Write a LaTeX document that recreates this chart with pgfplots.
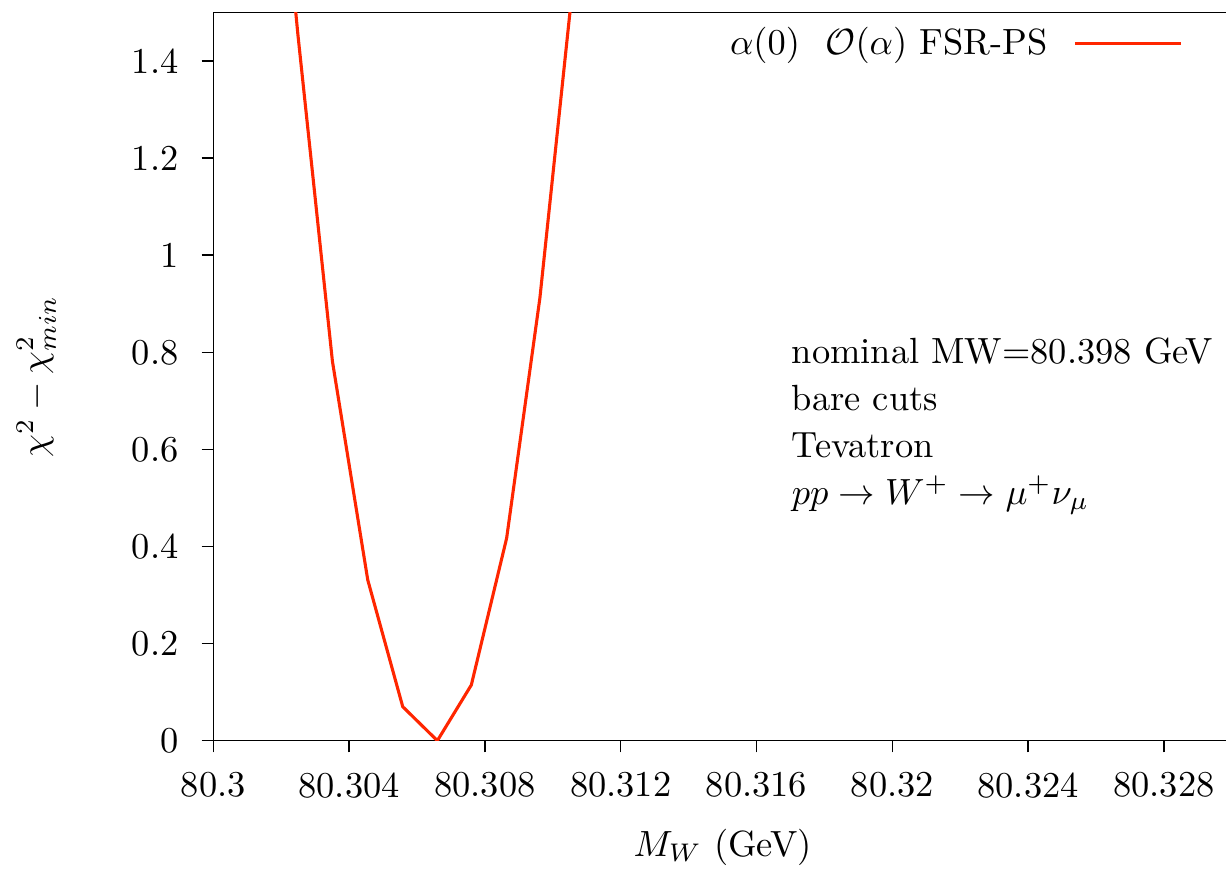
\documentclass[border=0pt]{standalone}
\usepackage{pgfplots}
\pgfplotsset{compat=1.18}
\definecolor{curvered}{RGB}{255,38,0}
\begin{document}
\begin{tikzpicture}
\begin{axis}[
  width=279.6pt, height=199.9pt,
  scale only axis,
  xmin=80.3, xmax=80.33,
  ymin=0, ymax=1.5,
  axis line style={line width=0.42pt},
  tick style={line width=0.42pt, black},
  tick align=outside,
  major tick length=3.2pt,
  xtick={80.3,80.304,80.308,80.312,80.316,80.32,80.324,80.328},
  xticklabels={80.3,80.304,80.308,80.312,80.316,80.32,80.324,80.328},
  ytick={0,0.2,0.4,0.6,0.8,1,1.2,1.4},
  yticklabels={0,0.2,0.4,0.6,0.8,1,1.2,1.4},
  scaled x ticks=false, scaled y ticks=false,
  xtick pos=bottom, ytick pos=left,
  xticklabel style={anchor=north, inner sep=0pt, yshift=-5.3pt},
  yticklabel style={anchor=east, inner sep=0pt, xshift=-6.2pt},
  xlabel={$M_W$ (GeV)},
  ylabel={$\chi^2-\chi^2_{min}$},
  every axis x label/.style={at={(rel axis cs:0.5,0)}, anchor=base, yshift=-31.8pt},
  every axis y label/.style={at={(rel axis cs:0,0.5)}, anchor=center, xshift=-48.6pt, rotate=90},
  legend plot pos=right,
  legend image code/.code={\draw[#1] (0pt,0pt) -- (29.1pt,0pt);},
  legend style={draw=none, fill=none, inner sep=0pt, outer sep=0pt,
    at={(rel axis cs:0.9515,0.9577)}, anchor=east,
    nodes={inner sep=0pt}, column sep=7.1pt},
  clip=true,
]
\addplot[curvered, line width=0.85pt] coordinates {
  (80.30147, 2.2)
  (80.30249, 1.456)
  (80.30351, 0.781)
  (80.30455, 0.331)
  (80.30558, 0.070)
  (80.30660, 0.0)
  (80.30760, 0.1147)
  (80.30864, 0.417)
  (80.30962, 0.912)
  (80.31064, 1.59)
};
\addlegendentry{$\alpha(0)$\hspace{7pt}$\mathcal{O}(\alpha)$ FSR-PS}
\node[anchor=base west, inner sep=0pt] at (axis cs:80.31702,0.777) {nominal MW=80.398 GeV};
\node[anchor=base west, inner sep=0pt] at (axis cs:80.31702,0.680) {bare cuts};
\node[anchor=base west, inner sep=0pt] at (axis cs:80.31702,0.583) {Tevatron};
\node[anchor=base west, inner sep=0pt] at (axis cs:80.31702,0.4865) {$pp\to W^+\to\mu^+\nu_\mu$};
\end{axis}
\pgfresetboundingbox
\path ([shift={(-58.55pt,-35.5pt)}]current axis.south west) rectangle ([shift={(-1.6pt,3.42pt)}]current axis.north east);
\end{tikzpicture}
\end{document}
